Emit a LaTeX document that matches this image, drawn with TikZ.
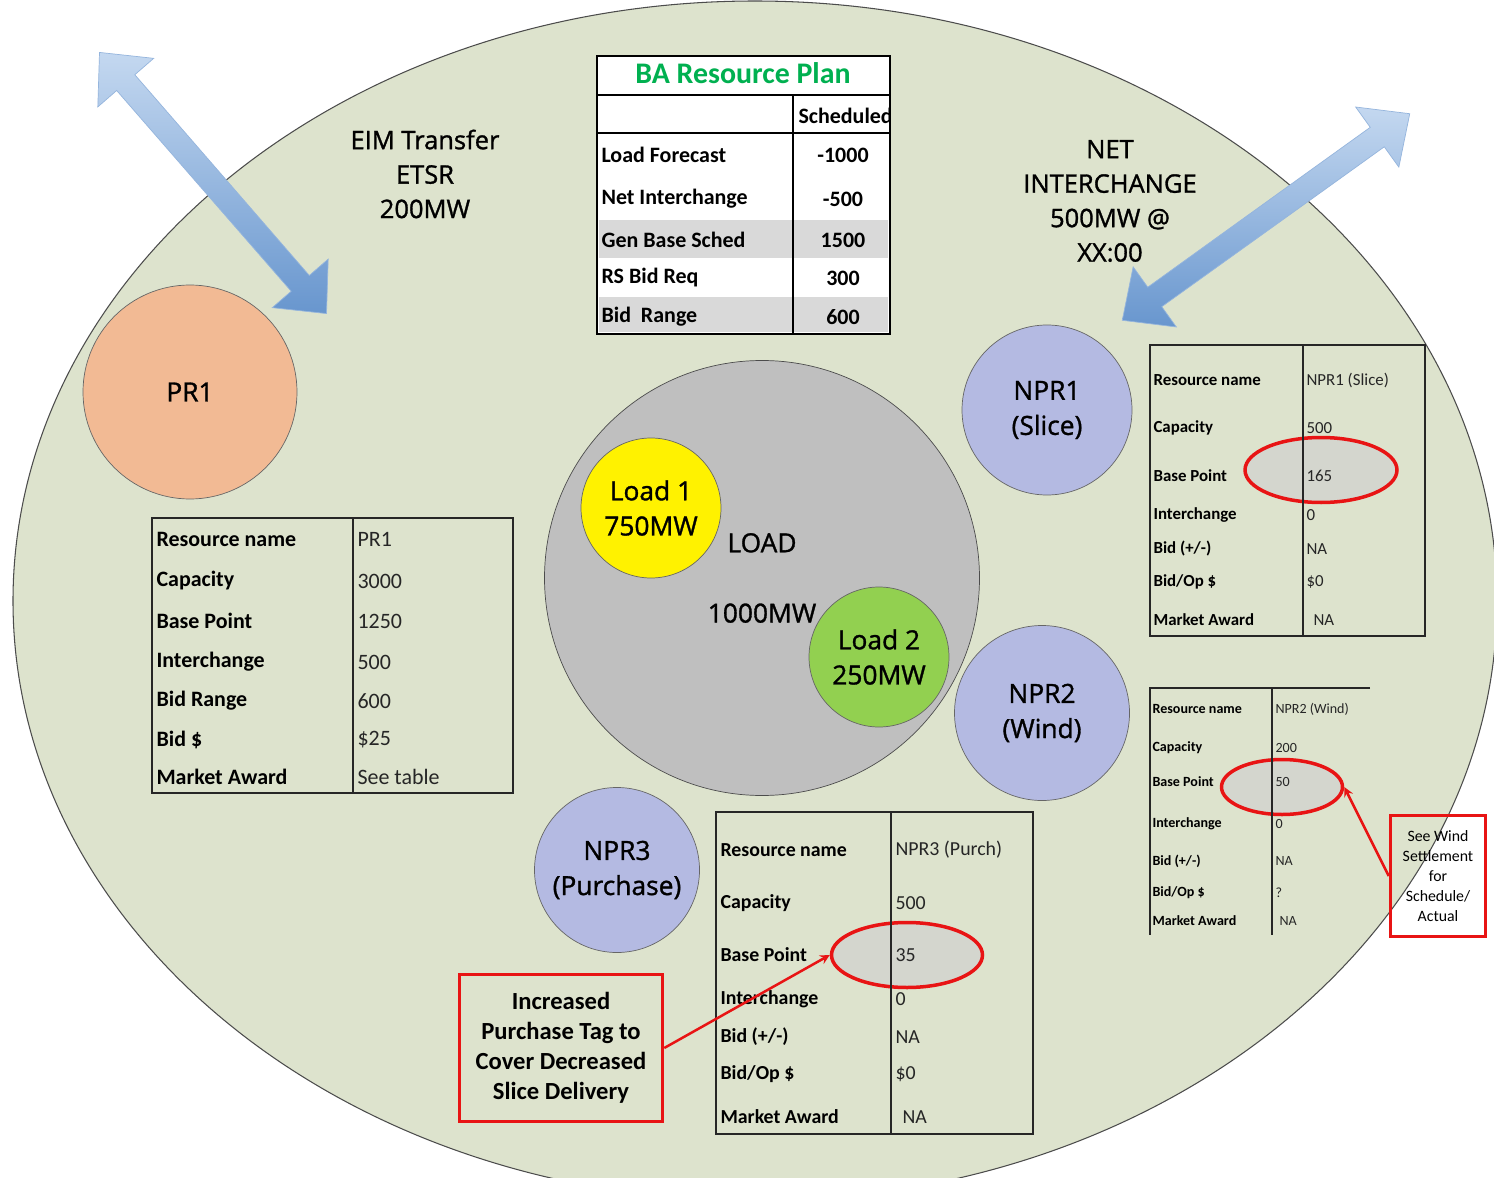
\documentclass[tikz,border=0pt]{standalone}
\usepackage{fontspec}
\setmainfont{Carlito}
\newfontfamily\labelfont[FakeBold=1.2]{Open Sans}
\usetikzlibrary{shapes.geometric}

\definecolor{regionfill}{RGB}{221,227,205}
\definecolor{prfill}{RGB}{242,186,148}
\definecolor{loadfill}{RGB}{191,191,191}
\definecolor{greenfill}{RGB}{146,208,80}
\definecolor{nprfill}{RGB}{180,186,226}
\definecolor{rowgray}{RGB}{217,217,217}
\definecolor{markgray}{RGB}{212,214,206}
\definecolor{plangreen}{RGB}{0,176,80}
\definecolor{arrowdark}{RGB}{104,150,206}
\definecolor{arrowlight}{RGB}{196,216,240}
\definecolor{markred}{RGB}{232,20,20}

\begin{document}
\begin{tikzpicture}[x=0.2mm, y=-0.2mm, >=stealth, semithick]

    \tikzstyle{res}=[circle, draw=black!60, thin, inner sep=0pt, text=black, align=center, font=\labelfont\fontsize{15}{20}\selectfont]
    \tikzstyle{bigtext}=[align=center, font=\labelfont\fontsize{14.5}{19.6}\selectfont]
    \tikzstyle{grid}=[draw=black!85, line width=0.35mm]
    \tikzstyle{lbl}=[anchor=west, inner sep=0pt, font=\tabsize\bfseries]
    \tikzstyle{val}=[anchor=west, inner sep=0pt, text=black!85, font=\tabsize]
    \tikzstyle{bpmark}=[ellipse, draw=markred, line width=0.7mm, fill=markgray, inner sep=0pt]
    \tikzstyle{note}=[draw=markred, line width=0.7mm, align=center, inner sep=0pt]
    \tikzstyle{redarrow}=[->, draw=markred, line width=0.5mm]
    \tikzstyle{flow}=[draw=arrowdark!70, thin, top color=arrowlight, bottom color=arrowdark]

    \clip (0,0) rectangle (1494,1178);
    \fill[white] (0,0) rectangle (1494,1178);

    % balancing area
    \draw[fill=regionfill, draw=black!70] (755,601) ellipse [x radius=742, y radius=600];

    % transfer arrows
    \begin{scope}[shift={(213,183)}, rotate=-49]
        \draw[flow] (-173,0) -- (-133,37) -- (-133,12) -- (133,12) -- (133,37)
            -- (173,0) -- (133,-37) -- (133,-12) -- (-133,-12) -- (-133,-37) -- cycle;
    \end{scope}
    \begin{scope}[shift={(1266,217)}, rotate=35.7]
        \draw[flow] (-177,0) -- (-137,37) -- (-137,12) -- (137,12) -- (137,37)
            -- (177,0) -- (137,-37) -- (137,-12) -- (-137,-12) -- (-137,-37) -- cycle;
    \end{scope}

    \node[bigtext] (eimtext) at (425,174) {EIM Transfer\\ETSR\\200MW};
    \node[bigtext] (nettext) at (1110,201) {NET\\INTERCHANGE\\500MW @\\XX:00};

    % resources
    \node[res, fill=prfill, minimum size=42.8mm] (pr1) at (190,392) {PR1};
    \node[res, fill=loadfill, draw=black!70, minimum size=87mm] (load) at (762,578) {LOAD\\[20pt]1000MW};
    \node[res, fill=yellow, minimum size=28mm] (loadone) at (651,508) {Load 1\\750MW};
    \node[res, fill=greenfill, minimum size=28mm] (loadtwo) at (879,657) {Load 2\\250MW};
    \node[res, fill=nprfill, minimum size=34mm] (npr1) at (1047,410) {NPR1\\(Slice)};
    \node[res, fill=nprfill, minimum size=35mm] (npr2) at (1042,713) {NPR2\\(Wind)};
    \node[res, fill=nprfill, minimum size=33mm] (npr3) at (617,870) {NPR3\\(Purchase)};

    % BA resource plan
    \def\tabsize{\fontsize{12.5}{14}\selectfont}
    \fill[white] (597,56) rectangle (890,334);
    \fill[rowgray] (599,220) rectangle (888,258);
    \fill[rowgray] (599,297) rectangle (888,332);
    \draw[line width=0.5mm] (597,56) rectangle (890,95);
    \draw[line width=0.3mm] (597,95) rectangle (890,133);
    \draw[line width=0.5mm] (597,133) rectangle (890,334);
    \draw[line width=0.5mm] (793,95) -- (793,334);
    \node[font=\bfseries\fontsize{17}{19}\selectfont, text=plangreen] (plantitle) at (743,73) {BA Resource Plan};
    \begin{scope}
        \clip (794,96) rectangle (889,132);
        \node[lbl] (schedhead) at (798,116) {Scheduled};
    \end{scope}
    \node[lbl] (bak1) at (601,155) {Load Forecast};
    \node[lbl] (bak2) at (601,199) {Net Interchange};
    \node[lbl] (bak3) at (601,240) {Gen Base Sched};
    \node[lbl] (bak4) at (601,278) {RS Bid Req};
    \node[lbl] (bak5) at (601,317) {Bid\ \ Range};
    \node[lbl, anchor=center] (bav1) at (843,155) {-1000};
    \node[lbl, anchor=center] (bav2) at (843,199) {-500};
    \node[lbl, anchor=center] (bav3) at (843,240) {1500};
    \node[lbl, anchor=center] (bav4) at (843,278) {300};
    \node[lbl, anchor=center] (bav5) at (843,317) {600};

    % PR1 data
    \def\tabsize{\fontsize{12.5}{14}\selectfont}
    \draw[grid] (152,518) rectangle (513,793) (353,518) -- (353,793);
    \node[lbl] (prk1) at (156,539) {Resource name};
    \node[lbl] (prk2) at (156,581) {Capacity};
    \node[lbl] (prk3) at (156,621) {Base Point};
    \node[lbl] (prk4) at (156,662) {Interchange};
    \node[lbl] (prk5) at (156,701) {Bid Range};
    \node[lbl] (prk6) at (156,740) {Bid \$};
    \node[lbl] (prk7) at (156,777) {Market Award};
    \node[val] (prv1) at (357,539) {PR1};
    \node[val] (prv2) at (357,581) {3000};
    \node[val] (prv3) at (357,621) {1250};
    \node[val] (prv4) at (357,662) {500};
    \node[val] (prv5) at (357,701) {600};
    \node[val] (prv6) at (357,740) {\$25};
    \node[val] (prv7) at (357,777) {See table};

    % NPR1 data
    \def\tabsize{\fontsize{9.6}{11}\selectfont}
    \node[bpmark, minimum width=30.4mm, minimum height=13mm] (bp1) at (1321,470) {};
    \draw[grid, line width=0.3mm] (1150,345) rectangle (1425,636) (1303,345) -- (1303,636);
    \node[lbl] (sak1) at (1153,380) {Resource name};
    \node[lbl] (sak2) at (1153,428) {Capacity};
    \node[lbl] (sak3) at (1153,476) {Base Point};
    \node[lbl] (sak4) at (1153,515) {Interchange};
    \node[lbl] (sak5) at (1153,549) {Bid (+/-)};
    \node[lbl] (sak6) at (1153,582) {Bid/Op \$};
    \node[lbl] (sak7) at (1153,620) {Market Award};
    \node[val] (sav1) at (1306,380) {NPR1 (Slice)};
    \node[val] (sav2) at (1306,428) {500};
    \node[val] (sav3) at (1306,476) {165};
    \node[val] (sav4) at (1306,515) {0};
    \node[val] (sav5) at (1306,549) {NA};
    \node[val] (sav6) at (1306,582) {\$0};
    \node[val] (sav7) at (1313,620) {NA};

    % NPR2 data
    \def\tabsize{\fontsize{8}{9}\selectfont}
    \node[bpmark, minimum width=24.2mm, minimum height=11mm] (bp2) at (1282,787) {};
    \draw[grid, line width=0.3mm] (1370,688) -- (1150,688) -- (1150,935) (1272,688) -- (1272,935);
    \node[lbl] (wik1) at (1152,709) {Resource name};
    \node[lbl] (wik2) at (1152,748) {Capacity};
    \node[lbl] (wik3) at (1152,782) {Base Point};
    \node[lbl] (wik4) at (1152,824) {Interchange};
    \node[lbl] (wik5) at (1152,861) {Bid (+/-)};
    \node[lbl] (wik6) at (1152,893) {Bid/Op \$};
    \node[lbl] (wik7) at (1152,921) {Market Award};
    \node[val] (wiv1) at (1275,709) {NPR2 (Wind)};
    \node[val] (wiv2) at (1275,748) {200};
    \node[val] (wiv3) at (1275,782) {50};
    \node[val] (wiv4) at (1275,824) {0};
    \node[val] (wiv5) at (1275,861) {NA};
    \node[val] (wiv6) at (1275,893) {?};
    \node[val] (wiv7) at (1279,921) {NA};

    % NPR3 data
    \def\tabsize{\fontsize{11.3}{13}\selectfont}
    \node[bpmark, minimum width=30.2mm, minimum height=13mm] (bp3) at (907,955) {};
    \draw[grid, line width=0.3mm] (716,812) rectangle (1033,1134) (891,812) -- (891,1134);
    \node[lbl] (puk1) at (720,850) {Resource name};
    \node[lbl] (puk2) at (720,903) {Capacity};
    \node[lbl] (puk3) at (720,955) {Base Point};
    \node[lbl] (puk4) at (720,999) {Interchange};
    \node[lbl] (puk5) at (720,1037) {Bid (+/-)};
    \node[lbl] (puk6) at (720,1074) {Bid/Op \$};
    \node[lbl] (puk7) at (720,1117) {Market Award};
    \node[val] (puv1) at (895,850) {NPR3 (Purch)};
    \node[val] (puv2) at (895,903) {500};
    \node[val] (puv3) at (895,955) {35};
    \node[val] (puv4) at (895,999) {0};
    \node[val] (puv5) at (895,1037) {NA};
    \node[val] (puv6) at (895,1074) {\$0};
    \node[val] (puv7) at (902,1117) {NA};

    % notes
    \node[note, minimum width=40.6mm, minimum height=29.4mm, font=\bfseries\fontsize{14}{17}\selectfont] (purchnote) at (561,1048) {Increased\\Purchase Tag to\\Cover Decreased\\Slice Delivery};
    \node[note, minimum width=19mm, minimum height=24.2mm, font=\fontsize{9}{11.4}\selectfont] (windnote) at (1438,876) {See Wind\\Settlement\\for\\Schedule/\\Actual};

    \draw[redarrow] (purchnote.east) -- (bp3.west);
    \draw[redarrow] (windnote.west) -- (bp2.east);
\end{tikzpicture}
\end{document}
